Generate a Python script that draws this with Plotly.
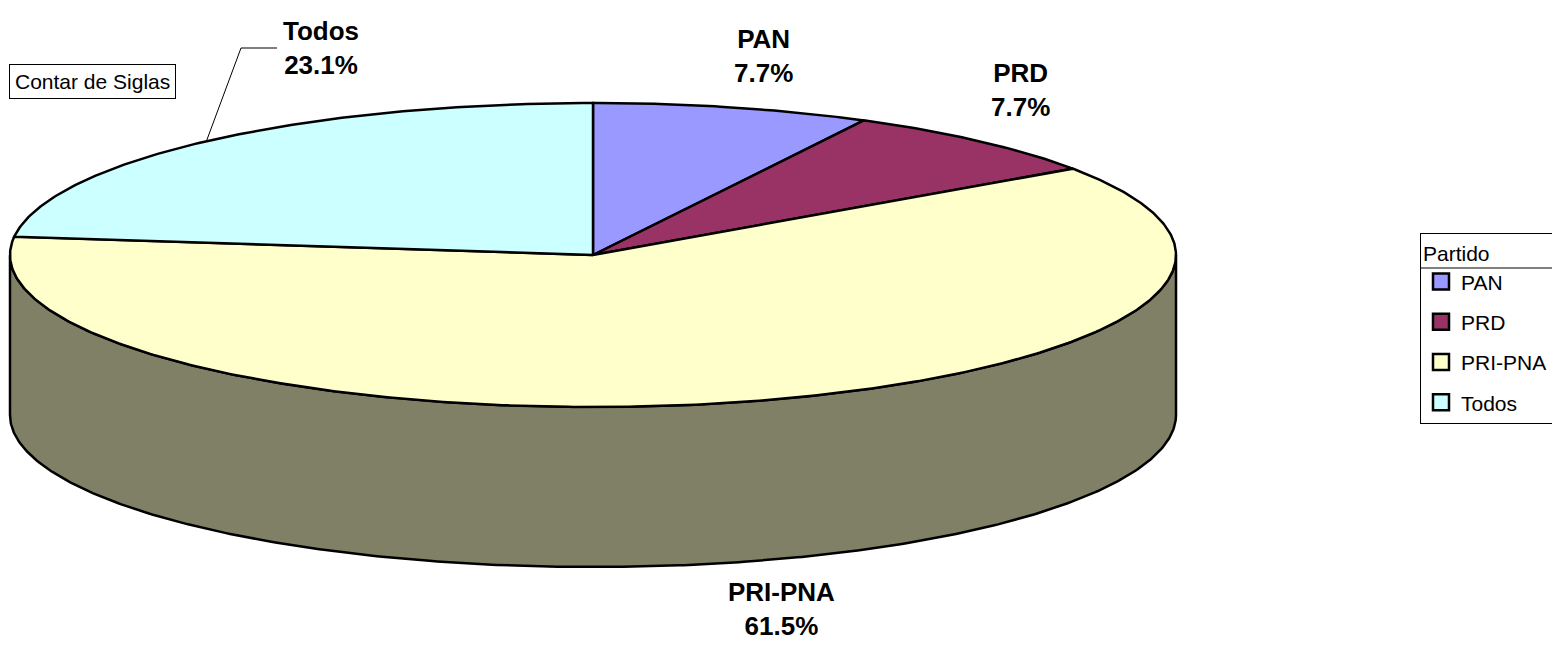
import math
import plotly.graph_objects as go

# ---- data ----
categories = ["PAN", "PRD", "PRI-PNA", "Todos"]
counts = [1, 1, 8, 3]            # Contar de Siglas
colors = ["#9999FF", "#993366", "#FFFFCC", "#CCFFFF"]
side_colors = ["#4D4D80", "#4D1A33", "#808066", "#668080"]
legend_title = "Partido"
data_title = "Contar de Siglas"

# ---- geometry / style (axis units == screen pixels) ----
PAGE_W, PAGE_H = 1560, 647
OFF = 8                      # default page body margin
W, H = PAGE_W - OFF, PAGE_H - OFF
CX, CY = 593, 255            # centre of top face
RX, RY = 583, 152            # ellipse radii
DEPTH = 160                  # thickness of the pie
FONT = "Liberation Sans, Arial, sans-serif"
LEG_X, LEG_Y = 1420, 233

total = sum(counts)
pcts = [c / total * 100 for c in counts]


def ept(theta_deg, dy=0.0):
    """Point on ellipse; theta measured clockwise from 12 o'clock."""
    t = math.radians(theta_deg)
    return CX + RX * math.sin(t), CY + dy - RY * math.cos(t)


def arc(a0, a1, dy=0.0, n=None):
    if n is None:
        n = max(2, int(abs(a1 - a0) * 2) + 1)
    xs, ys = [], []
    for i in range(n):
        a = a0 + (a1 - a0) * i / (n - 1)
        x, y = ept(a, dy)
        xs.append(x)
        ys.append(y)
    return xs, ys


fig = go.Figure()

# slice angle ranges
starts, ends = [], []
acc = 0.0
for p in pcts:
    starts.append(acc)
    acc += p / 100 * 360
    ends.append(acc)

# front side walls (visible between 90 and 270 degrees)
for name, a0, a1, sc in zip(categories, starts, ends, side_colors):
    s0, s1 = max(a0, 90), min(a1, 270)
    if s1 <= s0:
        continue
    tx, ty = arc(s0, s1)
    bx, by = arc(s1, s0, dy=DEPTH)
    fig.add_trace(go.Scatter(
        x=tx + bx + [tx[0]], y=ty + by + [ty[0]],
        mode="lines", fill="toself", fillcolor=sc,
        line=dict(color="black", width=2.5),
        showlegend=False, hoverinfo="skip"))

# top face slices
for name, a0, a1, c, p in zip(categories, starts, ends, colors, pcts):
    ax, ay = arc(a0, a1)
    fig.add_trace(go.Scatter(
        x=[CX] + ax + [CX], y=[CY] + ay + [CY],
        mode="lines", fill="toself", fillcolor=c,
        line=dict(color="black", width=2.5),
        showlegend=False, name=name,
        hovertemplate=f"{name}: {p:.1f}%<extra></extra>"))

# legend entries
for name, c in zip(categories, colors):
    fig.add_trace(go.Scatter(
        x=[None], y=[None], mode="markers", name=name, legendgroup=name,
        marker=dict(symbol="square", size=16, color=c,
                    line=dict(color="black", width=2.5))))

# data labels (positions are layout choices)
label_pos = {"PAN": (763, 56), "PRD": (1020, 90),
             "PRI-PNA": (781, 609), "Todos": (321, 48)}
for name, p in zip(categories, pcts):
    lx, ly = label_pos[name]
    fig.add_annotation(x=lx, y=ly, xref="x", yref="y", showarrow=False,
                       text=f"<b>{name}<br>{p:.1f}%</b>",
                       font=dict(family=FONT, size=26, color="black"),
                       align="center")

# leader line for Todos
i = categories.index("Todos")
mx, my = ept((starts[i] + ends[i]) / 2)
lx, ly = label_pos["Todos"]
end_x = lx - 44
fig.add_trace(go.Scatter(x=[mx, end_x - 36, end_x], y=[my, ly, ly],
                         mode="lines", line=dict(color="black", width=1),
                         showlegend=False, hoverinfo="skip"))

# "Contar de Siglas" field button
fig.add_annotation(x=9, y=81, xref="x", yref="y", xanchor="left",
                   yanchor="middle", showarrow=False, text=data_title,
                   font=dict(family=FONT, size=21, color="black"),
                   bordercolor="black", borderwidth=1, borderpad=5,
                   bgcolor="white")

# separator under the legend title
fig.add_shape(type="line", xref="x", yref="y", layer="above",
              x0=LEG_X, x1=PAGE_W - OFF, y0=268, y1=268,
              line=dict(color="black", width=1))

fig.update_layout(
    width=W, height=H,
    margin=dict(l=0, r=0, t=0, b=0, autoexpand=False),
    paper_bgcolor="white", plot_bgcolor="white",
    xaxis=dict(range=[OFF, PAGE_W], visible=False, fixedrange=True),
    yaxis=dict(range=[PAGE_H, OFF], visible=False, fixedrange=True),
    showlegend=True,
    legend=dict(
        title=dict(text=legend_title, font=dict(family=FONT, size=21)),
        font=dict(family=FONT, size=21, color="black"),
        x=(LEG_X - OFF) / W, xanchor="left",
        y=1 - (LEG_Y - OFF) / H, yanchor="top",
        bordercolor="black", borderwidth=1, bgcolor="rgba(0,0,0,0)",
        tracegroupgap=10, itemsizing="trace"),
)

fig.write_html("out.html")
